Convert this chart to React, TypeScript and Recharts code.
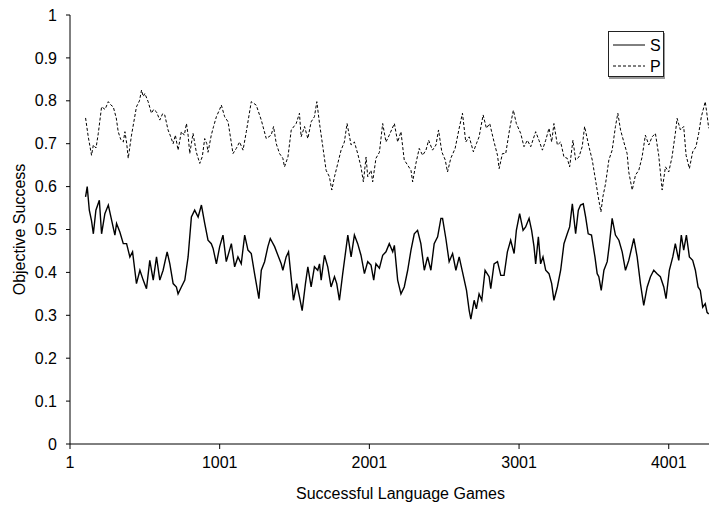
import { LineChart, Line, XAxis, YAxis } from "recharts";

const sGames = [
  105, 116, 130, 145, 157, 174, 197, 212, 234, 257, 279, 301, 312, 334, 357, 379, 401, 419, 434, 445,
  468, 490, 512, 534, 557, 579, 601, 623, 650, 668, 690, 712, 723, 745, 768, 790, 812, 834, 857, 879,
  901, 923, 945, 957, 979, 1001, 1023, 1045, 1079, 1101, 1123, 1145, 1168, 1190, 1212, 1234, 1263, 1279, 1301, 1323,
  1339, 1368, 1390, 1412, 1423, 1445, 1461, 1479, 1494, 1516, 1534, 1552, 1574, 1590, 1612, 1634, 1656, 1668, 1679, 1701,
  1723, 1745, 1768, 1783, 1801, 1823, 1857, 1879, 1901, 1923, 1945, 1968, 1990, 2012, 2030, 2045, 2068, 2090, 2112, 2134,
  2157, 2168, 2190, 2212, 2234, 2257, 2279, 2301, 2323, 2345, 2368, 2390, 2412, 2434, 2457, 2479, 2490, 2512, 2534, 2557,
  2579, 2601, 2623, 2650, 2668, 2679, 2701, 2716, 2734, 2752, 2774, 2801, 2812, 2834, 2857, 2879, 2901, 2923, 2945, 2968,
  2983, 3005, 3028, 3045, 3068, 3085, 3101, 3112, 3130, 3145, 3161, 3179, 3201, 3219, 3234, 3257, 3279, 3301, 3323, 3339,
  3357, 3379, 3397, 3412, 3430, 3446, 3463, 3485, 3508, 3523, 3534, 3550, 3568, 3590, 3605, 3623, 3645, 3668, 3690, 3712,
  3734, 3768, 3790, 3812, 3834, 3857, 3879, 3901, 3923, 3945, 3968, 3983, 4005, 4028, 4045, 4068, 4085, 4101, 4119, 4139,
  4161, 4179, 4197, 4212, 4228, 4245, 4257, 4268,
];
const sValues = [
  0.576, 0.6, 0.545, 0.52, 0.49, 0.545, 0.568, 0.49, 0.537, 0.557, 0.522, 0.487, 0.514, 0.494, 0.467, 0.467, 0.436, 0.448, 0.405, 0.374,
  0.405, 0.382, 0.362, 0.428, 0.382, 0.436, 0.382, 0.405, 0.448, 0.42, 0.374, 0.366, 0.35, 0.366, 0.382, 0.436, 0.529, 0.545, 0.529, 0.557,
  0.514, 0.475, 0.467, 0.456, 0.42, 0.46, 0.487, 0.425, 0.467, 0.413, 0.436, 0.42, 0.487, 0.452, 0.444, 0.397, 0.339, 0.405, 0.425, 0.46,
  0.479, 0.46, 0.44, 0.42, 0.405, 0.436, 0.448, 0.386, 0.335, 0.374, 0.343, 0.311, 0.374, 0.413, 0.366, 0.413, 0.405, 0.42, 0.382, 0.44,
  0.413, 0.366, 0.39, 0.374, 0.335, 0.397, 0.487, 0.436, 0.487, 0.467, 0.44, 0.397, 0.425, 0.417, 0.382, 0.42, 0.41, 0.44, 0.448, 0.467,
  0.448, 0.463, 0.382, 0.35, 0.366, 0.405, 0.452, 0.49, 0.498, 0.467, 0.405, 0.436, 0.405, 0.467, 0.483, 0.526, 0.526, 0.479, 0.425, 0.444,
  0.405, 0.436, 0.401, 0.358, 0.311, 0.291, 0.335, 0.315, 0.35, 0.335, 0.405, 0.39, 0.362, 0.42, 0.425, 0.393, 0.393, 0.448, 0.475, 0.444,
  0.498, 0.537, 0.498, 0.506, 0.526, 0.498, 0.46, 0.42, 0.483, 0.42, 0.436, 0.405, 0.397, 0.374, 0.335, 0.366, 0.405, 0.467, 0.49, 0.506,
  0.56, 0.49, 0.545, 0.557, 0.56, 0.529, 0.49, 0.487, 0.436, 0.397, 0.39, 0.358, 0.405, 0.425, 0.467, 0.526, 0.487, 0.475, 0.448, 0.405,
  0.428, 0.479, 0.436, 0.374, 0.323, 0.366, 0.39, 0.405, 0.397, 0.39, 0.366, 0.339, 0.405, 0.436, 0.467, 0.428, 0.487, 0.452, 0.487, 0.436,
  0.428, 0.405, 0.366, 0.358, 0.319, 0.327, 0.307, 0.303,
];

const pGames = [
  105, 123, 145, 157, 175, 190, 212, 235, 257, 275, 290, 310, 323, 340, 357, 368, 380, 390, 412, 445,
  465, 479, 490, 501, 523, 545, 560, 579, 601, 620, 634, 656, 670, 690, 705, 723, 745, 765, 779, 790,
  801, 823, 835, 845, 868, 885, 901, 915, 923, 945, 960, 979, 1001, 1012, 1034, 1057, 1090, 1112, 1134, 1157,
  1179, 1212, 1245, 1279, 1312, 1345, 1361, 1379, 1401, 1423, 1434, 1457, 1479, 1512, 1534, 1545, 1568, 1590, 1612, 1634,
  1650, 1668, 1690, 1712, 1734, 1750, 1768, 1790, 1812, 1834, 1852, 1879, 1901, 1923, 1945, 1961, 1979, 1990, 2012, 2023,
  2045, 2068, 2090, 2112, 2134, 2168, 2190, 2212, 2234, 2257, 2279, 2290, 2312, 2334, 2357, 2379, 2397, 2423, 2446, 2463,
  2485, 2508, 2523, 2545, 2574, 2601, 2623, 2645, 2668, 2696, 2716, 2734, 2761, 2783, 2805, 2834, 2857, 2868, 2890, 2912,
  2939, 2963, 2983, 3012, 3034, 3057, 3079, 3112, 3134, 3157, 3179, 3201, 3219, 3234, 3257, 3279, 3301, 3323, 3339, 3361,
  3379, 3401, 3423, 3439, 3468, 3490, 3512, 3534, 3548, 3561, 3579, 3601, 3623, 3645, 3661, 3679, 3701, 3723, 3734, 3757,
  3779, 3801, 3823, 3845, 3868, 3890, 3912, 3934, 3957, 3979, 4001, 4023, 4045, 4057, 4079, 4101, 4117, 4139, 4161, 4183,
  4201, 4219, 4245, 4257, 4268,
];
const pValues = [
  0.76, 0.716, 0.673, 0.697, 0.69, 0.724, 0.786, 0.78, 0.798, 0.79, 0.786, 0.76, 0.728, 0.71, 0.704, 0.728, 0.7, 0.666, 0.72, 0.786,
  0.8, 0.825, 0.81, 0.817, 0.798, 0.771, 0.78, 0.774, 0.755, 0.77, 0.767, 0.732, 0.72, 0.7, 0.72, 0.685, 0.728, 0.72, 0.747, 0.72,
  0.677, 0.724, 0.7, 0.68, 0.654, 0.67, 0.712, 0.7, 0.68, 0.72, 0.74, 0.763, 0.78, 0.79, 0.763, 0.751, 0.677, 0.689, 0.704, 0.685,
  0.728, 0.798, 0.79, 0.755, 0.712, 0.72, 0.74, 0.7, 0.677, 0.666, 0.646, 0.669, 0.732, 0.747, 0.771, 0.716, 0.74, 0.712, 0.751, 0.763,
  0.798, 0.747, 0.693, 0.638, 0.623, 0.592, 0.623, 0.654, 0.685, 0.704, 0.747, 0.697, 0.704, 0.677, 0.646, 0.611, 0.669, 0.623, 0.638, 0.611,
  0.666, 0.68, 0.747, 0.704, 0.72, 0.747, 0.704, 0.728, 0.662, 0.65, 0.638, 0.611, 0.654, 0.689, 0.673, 0.685, 0.708, 0.685, 0.697, 0.732,
  0.681, 0.662, 0.634, 0.666, 0.689, 0.736, 0.771, 0.704, 0.716, 0.681, 0.7, 0.716, 0.767, 0.736, 0.747, 0.704, 0.673, 0.642, 0.677, 0.677,
  0.736, 0.778, 0.747, 0.724, 0.693, 0.708, 0.693, 0.728, 0.708, 0.685, 0.708, 0.736, 0.704, 0.747, 0.697, 0.704, 0.669, 0.666, 0.646, 0.708,
  0.662, 0.669, 0.693, 0.74, 0.693, 0.662, 0.615, 0.568, 0.541, 0.576, 0.607, 0.662, 0.685, 0.74, 0.771, 0.732, 0.704, 0.677, 0.634, 0.592,
  0.627, 0.638, 0.669, 0.72, 0.697, 0.716, 0.724, 0.673, 0.592, 0.646, 0.634, 0.669, 0.724, 0.759, 0.732, 0.74, 0.673, 0.642, 0.681, 0.693,
  0.724, 0.763, 0.798, 0.767, 0.736,
];

const xTicks = [1, 1001, 2001, 3001, 4001];
const yTicks = [0, 0.1, 0.2, 0.3, 0.4, 0.5, 0.6, 0.7, 0.8, 0.9, 1];
const seriesNames = ["S", "P"];

const sData = sGames.map((g, i) => ({ game: g, value: sValues[i] }));
const pData = pGames.map((g, i) => ({ game: g, value: pValues[i] }));

const FONT = "'Liberation Sans', Arial, sans-serif";

function YTitle(props: any) {
  const { viewBox } = props;
  const cx = 19;
  const cy = viewBox.y + viewBox.height / 2;
  return (
    <text
      x={cx}
      y={cy}
      transform={`rotate(-90 ${cx} ${cy})`}
      textAnchor="middle"
      dominantBaseline="central"
      fontSize={16}
      fontFamily={FONT}
      fill="#000"
    >
      Objective Success
    </text>
  );
}

// legend drawn as an overlay so it doesn't eat into the plot height
function LegendBox() {
  return (
    <div
      style={{
        position: "absolute",
        left: 608,
        top: 31,
        width: 56,
        height: 46,
        border: "1px solid #222",
        boxShadow: "1px 2px 0 #999",
        background: "#fff",
        boxSizing: "border-box",
      }}
    >
      <svg width={54} height={44} style={{ display: "block" }}>
        <line x1={4} x2={36} y1={13} y2={13} stroke="#000" strokeWidth={1} />
        <text x={41} y={19} fontSize={16} fontFamily={FONT}>{seriesNames[0]}</text>
        <line x1={4} x2={36} y1={34} y2={34} stroke="#000" strokeWidth={1} strokeDasharray="3 2" />
        <text x={41} y={40} fontSize={16} fontFamily={FONT}>{seriesNames[1]}</text>
      </svg>
    </div>
  );
}

export default function App() {
  return (
    <div style={{ position: "absolute", left: 0, top: 0, width: 710, height: 506, background: "#fff" }}>
      <LineChart width={710} height={506} margin={{ top: 15, right: 1, bottom: 0, left: 30 }}>
        <XAxis
          type="number"
          dataKey="game"
          domain={[1, 4270]}
          ticks={xTicks}
          allowDataOverflow
          height={62}
          stroke="#000"
          tickSize={5}
          tickMargin={8}
          tick={{ fill: "#000", fontSize: 16, fontFamily: FONT }}
          label={{
            value: "Successful Language Games",
            position: "insideBottom",
            offset: 7,
            dx: 11,
            fill: "#000",
            fontSize: 16,
            fontFamily: FONT,
          }}
        />
        <YAxis
          type="number"
          domain={[0, 1]}
          ticks={yTicks}
          width={40}
          stroke="#000"
          tickSize={4}
          tickMargin={9}
          tick={{ fill: "#000", fontSize: 16, fontFamily: FONT }}
          label={<YTitle />}
        />
        <Line
          data={sData}
          dataKey="value"
          name={seriesNames[0]}
          type="linear"
          stroke="#000"
          strokeWidth={1.4}
          dot={false}
          isAnimationActive={false}
        />
        <Line
          data={pData}
          dataKey="value"
          name={seriesNames[1]}
          type="linear"
          stroke="#000"
          strokeWidth={1}
          strokeDasharray="3 2"
          dot={false}
          isAnimationActive={false}
        />
      </LineChart>
      <LegendBox />
    </div>
  );
}
